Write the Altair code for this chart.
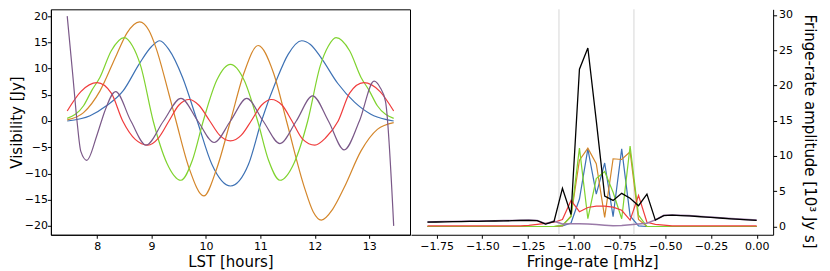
import altair as alt
import pandas as pd

# ---------------- Left panel: visibility vs LST ----------------
blue_lst = [7.45, 7.87, 8.17, 8.48, 8.78, 9.0, 9.15, 9.32, 9.57, 9.84, 10.11, 10.45, 10.78, 11.02, 11.3, 11.51, 11.76, 11.92, 12.12, 12.42, 12.73, 13.03, 13.3, 13.45]
blue_vis = [0.0, 1.0, 2.9, 5.8, 11.0, 14.2, 15.3, 13.6, 8.3, 0.0, -8.3, -12.4, -8.3, 0.0, 7.9, 12.7, 15.3, 14.6, 12.0, 7.2, 3.6, 1.3, 0.3, 0.0]

orange_lst = [7.45, 7.75, 8.05, 8.36, 8.55, 8.78, 8.95, 9.08, 9.32, 9.45, 9.69, 9.96, 10.2, 10.45, 10.7, 10.96, 11.24, 11.48, 11.81, 11.97, 12.12, 12.33, 12.54, 12.85, 13.15, 13.45]
orange_vis = [0.2, 1.6, 5.7, 12.7, 16.8, 18.9, 17.3, 14.0, 5.1, 0.0, -9.0, -14.3, -9.0, 0.0, 9.2, 14.4, 9.2, 0.0, -12.7, -17.3, -18.9, -16.8, -12.7, -5.7, -1.6, -0.3]

green_lst = [7.45, 7.75, 7.9, 8.05, 8.26, 8.5, 8.65, 8.8, 9.03, 9.28, 9.54, 9.75, 9.95, 10.2, 10.45, 10.7, 10.95, 11.15, 11.36, 11.62, 11.87, 12.1, 12.25, 12.39, 12.64, 12.85, 13.0, 13.15, 13.45]
green_vis = [0.5, 2.9, 5.8, 8.3, 13.4, 15.9, 14.3, 10.5, 0.0, -8.0, -11.3, -7.5, 0.0, 7.8, 10.8, 7.8, 0.0, -7.5, -11.3, -8.0, 0.0, 10.5, 14.3, 15.9, 13.4, 8.3, 5.8, 2.9, 0.5]

red_lst = [7.45, 7.7, 8.0, 8.26, 8.47, 8.7, 8.93, 9.13, 9.32, 9.5, 9.69, 9.87, 10.07, 10.25, 10.45, 10.65, 10.83, 11.02, 11.2, 11.4, 11.58, 11.78, 12.0, 12.2, 12.43, 12.64, 12.9, 13.2, 13.45]
red_vis = [1.9, 5.6, 7.3, 5.3, 0.0, -3.5, -4.6, -3.2, 0.0, 3.0, 4.1, 3.0, 0.0, -2.7, -3.8, -2.7, 0.0, 3.0, 4.1, 3.0, 0.0, -3.5, -4.6, -3.2, 0.0, 5.3, 7.3, 5.6, 1.9]

purple_lst = [7.45, 7.55, 7.63, 7.7, 7.81, 7.99, 8.08, 8.14, 8.34, 8.62, 8.9, 9.22, 9.54, 9.85, 10.15, 10.45, 10.75, 11.05, 11.36, 11.66, 11.96, 12.25, 12.54, 12.82, 13.09, 13.2, 13.3, 13.45]
purple_vis = [20.0, 9.0, 0.0, -5.8, -7.5, -2.9, 0.0, 1.85, 5.6, 0.0, -4.6, 0.0, 4.3, 0.0, -4.1, 0.0, 4.3, 0.0, -4.3, 0.0, 4.8, 0.0, -5.5, 0.0, 7.6, 6.4, 3.7, -20.0]

lst_ticks = [8, 9, 10, 11, 12, 13]
vis_ticks = [-20, -15, -10, -5, 0, 5, 10, 15, 20]

# ---------------- Right panel: fringe-rate spectrum ----------------
frate = [-1.800, -1.754, -1.708, -1.662, -1.615, -1.569, -1.523, -1.477, -1.431, -1.385,
         -1.338, -1.292, -1.246, -1.200, -1.154, -1.108, -1.062, -1.015, -0.969, -0.923,
         -0.877, -0.831, -0.785, -0.738, -0.692, -0.646, -0.600, -0.554, -0.508, -0.462,
         -0.415, -0.369, -0.323, -0.277, -0.231, -0.185, -0.138, -0.092, -0.046, 0.000]

amp_blue = [0]*16 + [0.1, 0.5, 3.9, 11.0, 4.6, 9.0, 1.4, 11.0, 1.5, 0.1] + [0]*14
amp_orange = [0]*16 + [0.1, 1.5, 9.4, 11.1, 8.9, 1.3, 9.6, 9.5, 10.6, 1.0] + [0]*14
amp_green = [0]*16 + [0.2, 1.4, 11.1, 1.1, 6.8, 7.8, 4.85, 1.1, 11.4, 1.6] + [0]*14
amp_red = [0.1]*12 + [0.15, 0.3, 0.45, 0.6, 1.0, 3.7, 2.1, 2.7, 2.9, 2.9, 2.75, 2.3, 0.9, 4.4, 0.6, 0.3, 0.2] + [0.1]*11
amp_purple = [0.66, 0.68, 0.70, 0.72, 0.74, 0.76, 0.78, 0.80, 0.82, 0.84, 0.86, 0.89, 0.92, 0.86, 0.39, 0.76,
              0.35, 0.4, 0.4, 0.35, 0.28, 0.18, 0.1, 0.15, 0.25, 0.35, 0.45,
              0.94, 1.59, 1.64, 1.59, 1.54, 1.46, 1.38, 1.29, 1.21, 1.12, 1.04, 0.97, 0.91]
amp_black = [0.62, 0.64, 0.66, 0.68, 0.70, 0.72, 0.74, 0.76, 0.78, 0.80, 0.82, 0.85, 0.88, 0.82, 0.35, 0.72,
             5.4, 1.7, 22.3, 25.3, 15.0, 4.3, 3.7, 4.7, 4.0, 2.95, 4.6,
             0.9, 1.55, 1.6, 1.55, 1.5, 1.42, 1.34, 1.25, 1.17, 1.08, 1.0, 0.93, 0.87]

filter_edges = [-1.081, -0.671]
fr_ticks = [-1.75, -1.5, -1.25, -1.0, -0.75, -0.5, -0.25, 0.0]
amp_ticks = [0, 5, 10, 15, 20, 25, 30]

FONT = "DejaVu Sans"
LW = 1.2

x_left = alt.X("x:Q", scale=alt.Scale(domain=[7.15, 13.75], nice=False, zero=False),
               axis=alt.Axis(title="LST [hours]", values=lst_ticks, format="d",
                             labelPadding=2, titlePadding=3))
y_left = alt.Y("y:Q", scale=alt.Scale(domain=[-21.7, 21.3], nice=False, zero=False),
               axis=alt.Axis(title="Visibility [Jy]", values=vis_ticks, format="d",
                             labelPadding=0, titlePadding=0))

def vis_layer(xs, ys, color):
    df = pd.DataFrame({"x": xs, "y": ys})
    return alt.Chart(df).mark_line(color=color, strokeWidth=LW, interpolate="monotone").encode(x=x_left, y=y_left)

left = alt.layer(
    vis_layer(blue_lst, blue_vis, "#3d71b4"),
    vis_layer(orange_lst, orange_vis, "#d4862a"),
    vis_layer(green_lst, green_vis, "#7fd32e"),
    vis_layer(red_lst, red_vis, "#f03c3c"),
    vis_layer(purple_lst, purple_vis, "#7a5888"),
).properties(width=360, height=226, view=alt.ViewBackground(stroke="black", strokeWidth=1))

x_right = alt.X("x:Q", scale=alt.Scale(domain=[-1.89, 0.09], nice=False, zero=False),
                axis=alt.Axis(title="Fringe-rate [mHz]", values=fr_ticks, format=".2f",
                              labelPadding=2, titlePadding=3))
y_right = alt.Y("y:Q", scale=alt.Scale(domain=[-1.17, 30.78], nice=False, zero=False),
                axis=alt.Axis(title="Fringe-rate amplitude [10³ Jy s]", orient="right",
                              values=amp_ticks, format="d", titleY=122,
                              labelPadding=2, titlePadding=9))

def fr_layer(ys, color, width=LW):
    df = pd.DataFrame({"x": frate, "y": ys})
    return alt.Chart(df).mark_line(color=color, strokeWidth=width).encode(x=x_right, y=y_right)

rules = alt.Chart(pd.DataFrame({"x": filter_edges})).mark_rule(color="#d6d6d6", strokeWidth=1).encode(x=x_right)

right = alt.layer(
    rules,
    fr_layer(amp_blue, "#3d71b4"),
    fr_layer(amp_orange, "#d4862a"),
    fr_layer(amp_green, "#7fd32e"),
    fr_layer(amp_red, "#f03c3c"),
    fr_layer(amp_purple, "#9a7aa8", 1.6),
    fr_layer(amp_black, "#000000", 1.3),
).properties(width=363, height=226)

chart = alt.hconcat(left, right, spacing=0).properties(
    padding={"left": 0, "right": 5, "top": 0, "bottom": 0}
).configure_view(stroke=None).configure_axis(
    grid=False,
    domainColor="black",
    tickColor="black",
    tickSize=3.5,
    labelFont=FONT,
    labelFontSize=11,
    labelColor="black",
    labelFlush=False,
    titleFont=FONT,
    titleFontSize=15,
    titleFontWeight="normal",
    titleColor="black",
)

chart.save("out.html", embed_options={"renderer": "svg", "actions": False})
